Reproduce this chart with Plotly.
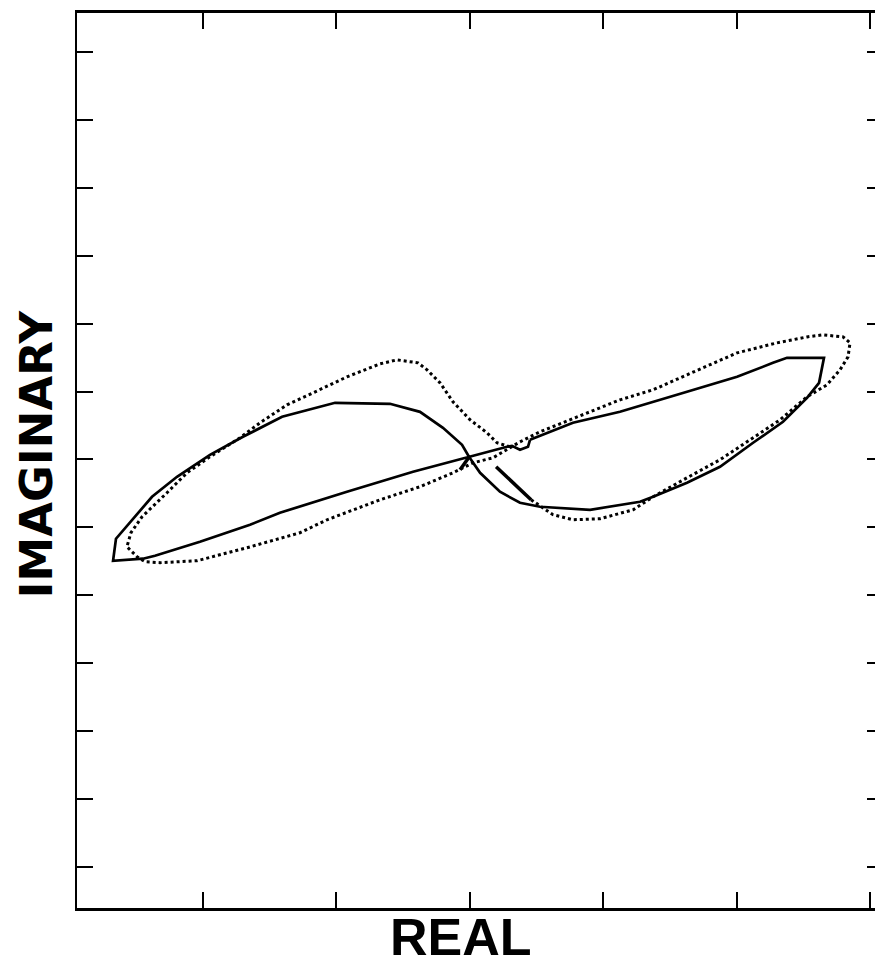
import plotly.graph_objects as go

# Solid curve (figure-eight), data units: x tick step 1, y tick step 1
solid_x = [0.453, 0.438, 0.378, 0.318, 0.281, -0.004, -0.423, -0.918, -1.42, -1.644, -2.019,
           -2.356, -2.446, -2.67, -2.648, -2.378, -2.191, -1.944, -1.697, -1.404, -1.007,
           -0.596, -0.371, -0.199, -0.056, -0.004, 0.079, 0.228, 0.378, 0.528, 0.903, 1.277,
           1.375, 1.629, 1.876, 2.124, 2.348, 2.528, 2.618, 2.655, 2.378, 2.273, 2.004, 1.629,
           1.127, 0.775, 0.453]
solid_y = [0.29, 0.187, 0.143, 0.201, 0.187, 0.04, -0.181, -0.475, -0.784, -0.96, -1.21,
           -1.416, -1.46, -1.49, -1.166, -0.549, -0.255, 0.069, 0.334, 0.628, 0.834,
           0.819, 0.701, 0.466, 0.216, 0.04, -0.196, -0.475, -0.637, -0.696, -0.74, -0.622,
           -0.549, -0.343, -0.107, 0.246, 0.554, 0.907, 1.128, 1.496, 1.496, 1.422, 1.216, 0.996,
           0.702, 0.54, 0.29]

# Dotted curve
dotted_x = [0.461, 0.625, 0.775, 0.978, 1.225, 1.375, 1.629, 1.876, 2.124, 2.326, 2.528, 2.678,
            2.775, 2.835, 2.85, 2.798, 2.648, 2.528, 2.303, 2.004, 1.629, 1.375, 1.127, 0.79,
            0.528, 0.378, 0.281, 0.176, 0.026, -0.124, -0.371, -0.67, -1.067, -1.27, -1.667,
            -2.041, -2.318, -2.43, -2.49, -2.566, -2.536, -2.453, -2.266, -2.116, -1.944, -1.719,
            -1.569, -1.367, -1.172, -0.918, -0.67, -0.543, -0.386, -0.318, -0.221, -0.124, 0.004,
            0.131, 0.206, 0.303]
dotted_y = [-0.592, -0.813, -0.887, -0.872, -0.74, -0.549, -0.269, -0.004, 0.319, 0.584, 0.922,
            1.099, 1.319, 1.51, 1.716, 1.804, 1.834, 1.804, 1.716, 1.569, 1.246, 1.025, 0.878,
            0.613, 0.407, 0.26, 0.143, 0.025, -0.049, -0.196, -0.401, -0.593, -0.887, -1.078,
            -1.299, -1.49, -1.519, -1.504, -1.431, -1.284, -1.078, -0.843, -0.49, -0.196, 0.04,
            0.319, 0.54, 0.804, 0.981, 1.216, 1.407, 1.466, 1.422, 1.319, 1.128, 0.849, 0.584,
            0.393, 0.246, 0.187]

# Short dense strokes near the crossing
spike_x = [-0.071, 0.004, None, 0.199, 0.461]
spike_y = [-0.152, 0.054, None, -0.107, -0.592]

x_ticks = [-2, -1, 0, 1, 2, 3]
y_ticks = [-6, -5, -4, -3, -2, -1, 0, 1, 2, 3, 4, 5, 6]

fig = go.Figure()
fig.add_trace(go.Scatter(x=dotted_x, y=dotted_y, mode="lines",
                         line=dict(color="black", width=3, dash="3px,3px"),
                         hoverinfo="skip", showlegend=False))
fig.add_trace(go.Scatter(x=solid_x, y=solid_y, mode="lines",
                         line=dict(color="black", width=2.7),
                         hoverinfo="skip", showlegend=False))
fig.add_trace(go.Scatter(x=spike_x, y=spike_y, mode="lines",
                         line=dict(color="black", width=3.5),
                         hoverinfo="skip", showlegend=False))
# invisible trace to enable right-side tick axis
fig.add_trace(go.Scatter(x=[0], y=[0], yaxis="y2", mode="markers",
                         marker=dict(opacity=0), hoverinfo="skip", showlegend=False))

fig.update_layout(
    width=875, height=958,
    margin=dict(l=69, r=0, t=5, b=58),
    paper_bgcolor="white", plot_bgcolor="white",
    xaxis=dict(range=[-2.94, 3.097], tickvals=x_ticks, showticklabels=False,
               ticks="inside", ticklen=16, tickwidth=2, tickcolor="black",
               showline=True, linewidth=2.5, linecolor="black", mirror="ticks",
               showgrid=False, zeroline=False, fixedrange=True),
    yaxis=dict(range=[-6.6, 6.57], tickvals=y_ticks, showticklabels=False,
               ticks="inside", ticklen=16, tickwidth=2, tickcolor="black",
               showline=True, linewidth=2, linecolor="black",
               showgrid=False, zeroline=False, fixedrange=True),
    yaxis2=dict(range=[-6.6, 6.57], tickvals=y_ticks, showticklabels=False,
                overlaying="y", side="right",
                ticks="inside", ticklen=16, tickwidth=2, tickcolor="black",
                showline=False, showgrid=False, zeroline=False, fixedrange=True),
    annotations=[
        dict(text="<b>REAL</b>", xref="paper", yref="paper", x=0.476, y=-0.0324,
             xanchor="center", yanchor="middle", showarrow=False,
             font=dict(family="Liberation Sans, Arial, sans-serif", size=52, color="black")),
        dict(text="<b>IMAGINARY</b>", xref="paper", yref="paper", x=-0.0509, y=0.508,
             xanchor="center", yanchor="middle", showarrow=False, textangle=-90,
             font=dict(family="DejaVu Sans, sans-serif", size=45, color="black")),
    ],
)

fig.write_html("out.html")
